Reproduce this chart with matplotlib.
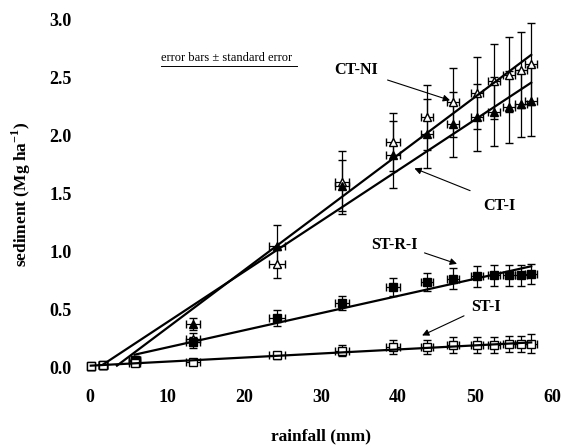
import matplotlib
matplotlib.use("Agg")
import matplotlib.pyplot as plt
import numpy as np

plt.rcParams['font.family'] = ['Liberation Serif', 'DejaVu Serif']
plt.rcParams['mathtext.fontset'] = 'custom'
plt.rcParams['mathtext.rm'] = 'Liberation Serif'
plt.rcParams['mathtext.bf'] = 'Liberation Serif:bold'

rainfall = [0.1, 1.7, 5.8, 13.4, 24.3, 32.7, 39.4, 43.8, 47.1, 50.3, 52.5, 54.4, 56.0, 57.3]
rain_err = [0.3, 0.5, 0.7, 0.9, 1.0, 0.9, 0.9, 0.8, 0.8, 0.8, 0.8, 0.8, 0.8, 0.8]

ct_ni = [0.02, 0.03, 0.06, 0.25, 0.90, 1.60, 1.95, 2.16, 2.29, 2.37, 2.47, 2.53, 2.57, 2.62]
ct_ni_err = [0.01, 0.01, 0.02, 0.05, 0.12, 0.27, 0.25, 0.28, 0.30, 0.31, 0.32, 0.32, 0.33, 0.35]
ct_i = [0.02, 0.03, 0.07, 0.38, 1.05, 1.57, 1.84, 2.02, 2.10, 2.16, 2.21, 2.25, 2.28, 2.30]
ct_i_err = [0.01, 0.01, 0.02, 0.05, 0.18, 0.22, 0.29, 0.30, 0.28, 0.29, 0.30, 0.31, 0.29, 0.30]
st_r_i = [0.02, 0.03, 0.07, 0.22, 0.43, 0.56, 0.70, 0.74, 0.77, 0.79, 0.80, 0.80, 0.80, 0.81]
st_r_i_err = [0.01, 0.01, 0.03, 0.05, 0.07, 0.06, 0.08, 0.08, 0.09, 0.09, 0.09, 0.09, 0.09, 0.09]
st_i = [0.02, 0.03, 0.04, 0.05, 0.11, 0.15, 0.18, 0.18, 0.20, 0.20, 0.20, 0.21, 0.21, 0.21]
st_i_err = [0.01, 0.01, 0.01, 0.02, 0.03, 0.05, 0.06, 0.06, 0.07, 0.07, 0.07, 0.07, 0.07, 0.08]

# regression lines: intercept, slope, starting rainfall
fit_names = ['CT-NI', 'CT-I', 'ST-R-I', 'ST-I']
fit_intercept = [-0.154, -0.044, 0.029, 0.020]
fit_slope = [0.0498, 0.0437, 0.0148, 0.0035]
fit_start = [3.5, 1.7, 5.8, 0.1]

xticks = [0, 10, 20, 30, 40, 50, 60]
yticks = [0.0, 0.5, 1.0, 1.5, 2.0, 2.5, 3.0]

fig = plt.figure(figsize=(5.69, 4.46), dpi=100)
ax = fig.add_axes([90/569, 78/446, 462/569, 348/446])
ax.set_xlim(0, 60)
ax.set_ylim(0, 3.0)

series = [
    (ct_ni, ct_ni_err, '^', 'white'),
    (ct_i, ct_i_err, '^', 'black'),
    (st_r_i, st_r_i_err, 's', 'black'),
    (st_i, st_i_err, 's', 'white'),
]
for vals, err, mk, fc in series:
    ax.errorbar(rainfall, vals, yerr=err, xerr=rain_err, fmt=mk, ms=5.5,
                mfc=fc, mec='black', mew=1.0, ecolor='black', elinewidth=0.9,
                capsize=3, capthick=0.9, clip_on=False, zorder=3)

xe = max(rainfall)
for a, b, s in zip(fit_intercept, fit_slope, fit_start):
    xs = np.array([s, xe])
    ax.plot(xs, a + b * xs, color='black', lw=1.6, zorder=4, clip_on=False)

for sp in ax.spines.values():
    sp.set_visible(False)
ax.set_xticks(xticks)
ax.set_yticks(yticks)
ax.set_xticklabels([str(t) for t in xticks], fontsize=13, fontweight='bold')
ax.set_yticklabels([f'{t:.1f}' for t in yticks], fontsize=13, fontweight='bold')
ax.tick_params(axis='x', length=0, pad=15)
ax.tick_params(axis='y', length=0, pad=13)

ax.set_xlabel('rainfall (mm)', fontsize=12.5, fontweight='bold', labelpad=16)
ax.set_ylabel(r'sediment (Mg ha$^{\mathbf{-1}}$)', fontsize=12.5, fontweight='bold', labelpad=12)

ax.text(9.2, 2.67, 'error bars \u00b1 standard error', fontsize=9,
        ha='left', va='center', transform=ax.transData)
ax.plot([9.2, 26.9], [2.60, 2.60], color='black', lw=0.7, clip_on=False)

arrow = dict(arrowstyle='-|>', color='black', lw=0.8, mutation_scale=10)
lab = dict(fontsize=11.5, fontweight='bold', ha='center', va='center')
# CT-NI
ax.annotate('', xy=(47.1, 2.30), xytext=(38.3, 2.49), arrowprops=arrow)
ax.text(34.5, 2.57, 'CT-NI', **lab)
# CT-I
ax.annotate('', xy=(41.8, 1.73), xytext=(49.7, 1.52), arrowprops=arrow)
ax.text(53.2, 1.40, 'CT-I', **lab)
# ST-R-I
ax.annotate('', xy=(48.0, 0.89), xytext=(43.1, 1.00), arrowprops=arrow)
ax.text(39.6, 1.06, 'ST-R-I', **lab)
# ST-I
ax.annotate('', xy=(42.8, 0.27), xytext=(48.9, 0.46), arrowprops=arrow)
ax.text(51.4, 0.53, 'ST-I', **lab)

fig.savefig('out.png', dpi=100)
